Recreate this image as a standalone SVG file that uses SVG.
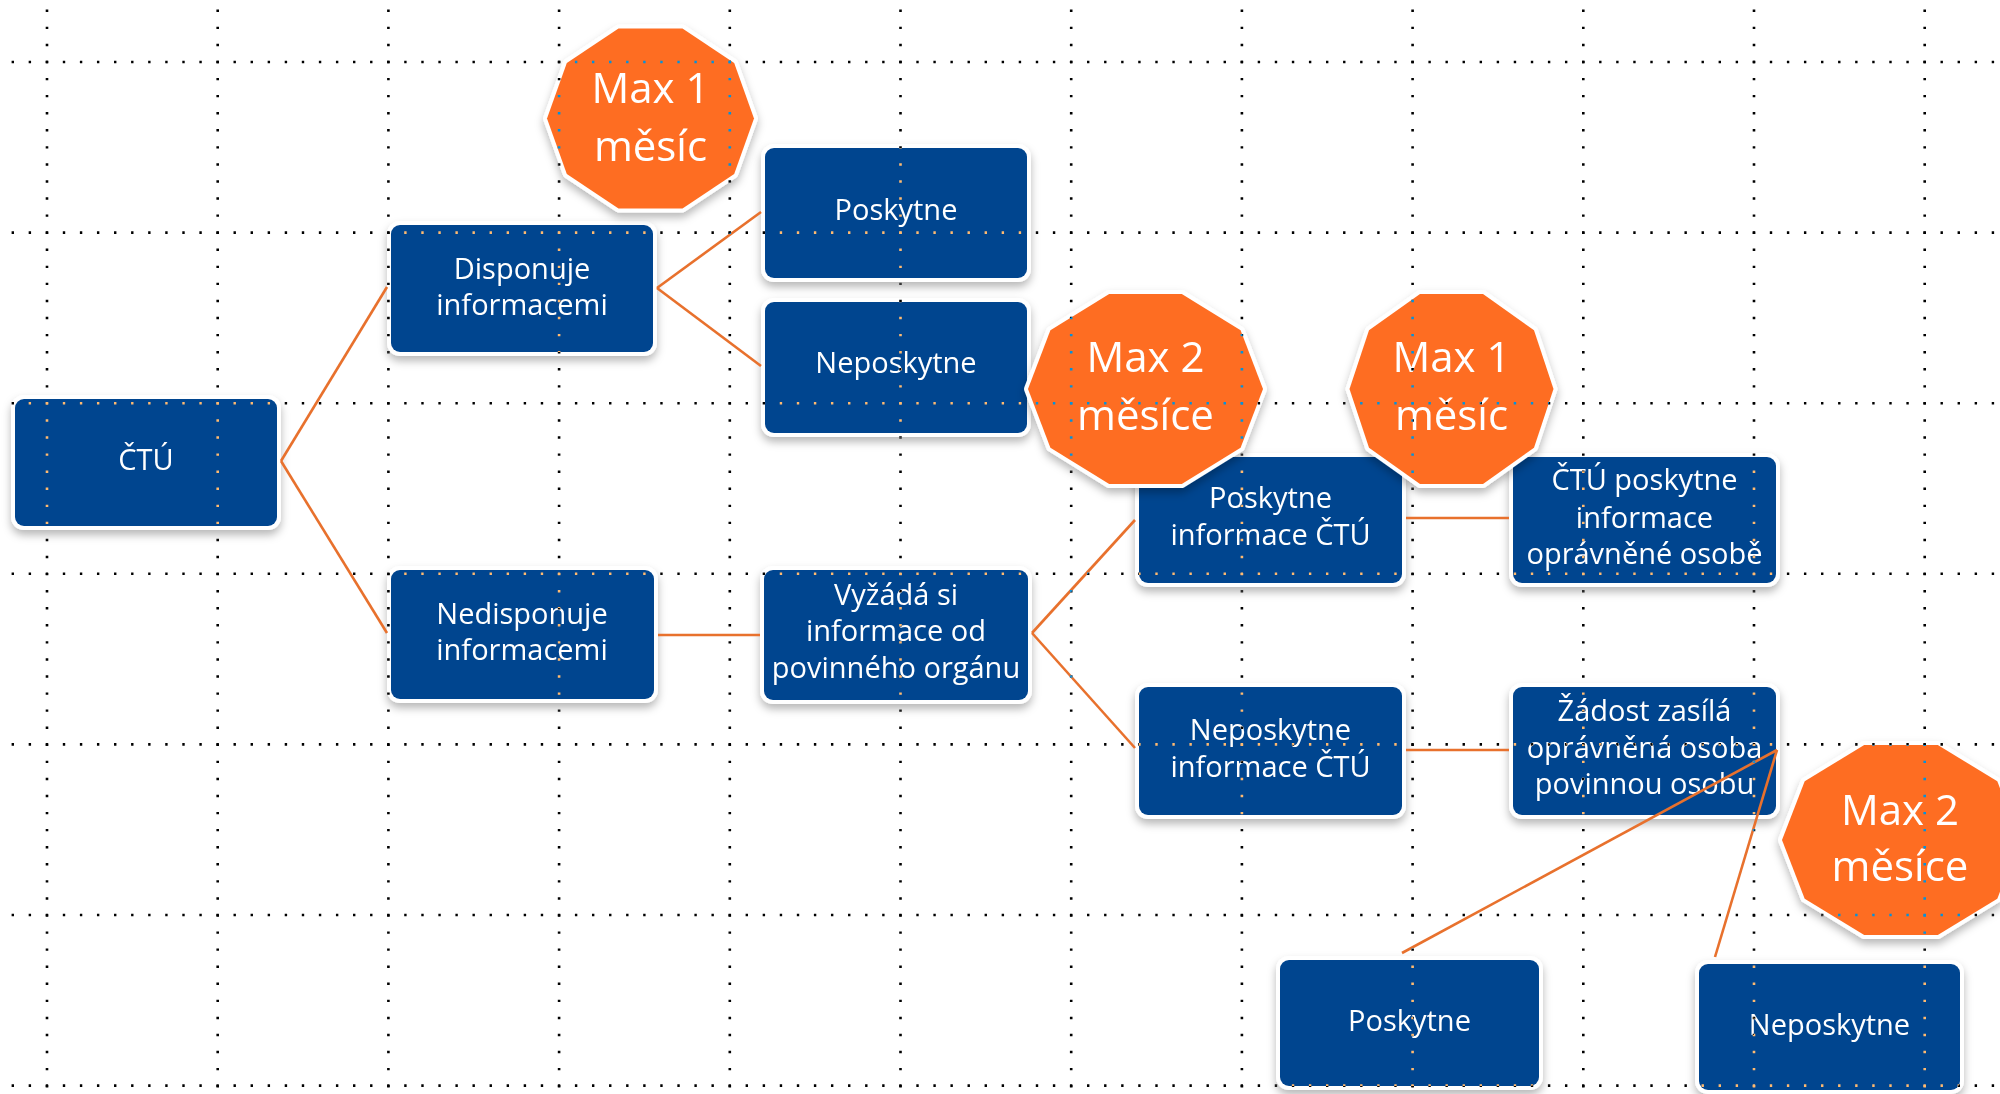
<svg xmlns="http://www.w3.org/2000/svg" width="2000" height="1094" viewBox="0 0 2000 1094">
  <defs>
    <filter id="sh" x="-20%" y="-20%" width="140%" height="150%">
      <feDropShadow dx="0" dy="5" stdDeviation="4" flood-color="#000" flood-opacity="0.28"/>
    </filter>
    <style>
      .box { fill: #03458F; stroke: #FFFFFF; stroke-width: 8; paint-order: stroke fill; filter: url(#sh); }
      .oct { fill: #FE6D22; stroke: #FFFFFF; stroke-width: 8; stroke-linejoin: round; paint-order: stroke fill; filter: url(#sh); }
      .t { font-family: "Open Sans", "Noto Sans", "DejaVu Sans", sans-serif; font-size: 29px; fill: #FFFFFF; text-anchor: middle; }
      .big { font-family: "Open Sans", "Noto Sans", "DejaVu Sans", sans-serif; font-size: 42px; fill: #FFFFFF; text-anchor: middle; }
      .con { stroke: #E8712D; stroke-width: 2.6; fill: none; }
      .gh { stroke: #FFFFFF; stroke-width: 2.6; stroke-dasharray: 2.4 14.67; fill: none; }
    </style>
  </defs>
  <rect x="0" y="0" width="2000" height="1094" fill="#FFFFFF"/>

  <g id="n-ctu">
    <rect class="box" x="15" y="399" width="262" height="127" rx="9"/>
    <text class="t" x="146" y="470">ČTÚ</text>
  </g>
  <g id="n-disponuje">
    <rect class="box" x="391" y="225" width="262" height="127" rx="9"/>
    <text class="t" x="522" y="278.5">Disponuje</text>
    <text class="t" x="522" y="314.5">informacemi</text>
  </g>
  <g id="n-nedisponuje">
    <rect class="box" x="391" y="570" width="263" height="129" rx="9"/>
    <text class="t" x="522" y="623.5">Nedisponuje</text>
    <text class="t" x="522" y="659.5">informacemi</text>
  </g>
  <g id="n-poskytne1">
    <rect class="box" x="765" y="148" width="262" height="130" rx="9"/>
    <text class="t" x="896" y="220">Poskytne</text>
  </g>
  <g id="n-neposkytne1">
    <rect class="box" x="765" y="302" width="262" height="131" rx="9"/>
    <text class="t" x="896" y="372.5">Neposkytne</text>
  </g>
  <g id="n-vyzada">
    <rect class="box" x="764" y="570" width="264" height="130" rx="9"/>
    <text class="t" x="896" y="604.5">Vyžádá si</text>
    <text class="t" x="896" y="641">informace od</text>
    <text class="t" x="896" y="678">povinného orgánu</text>
  </g>
  <g id="n-poskytne-info">
    <rect class="box" x="1139" y="457" width="263" height="126" rx="9"/>
    <text class="t" x="1270.5" y="508">Poskytne</text>
    <text class="t" x="1270.5" y="545">informace ČTÚ</text>
  </g>
  <g id="n-ctu-poskytne">
    <rect class="box" x="1513" y="457" width="263" height="126" rx="9"/>
    <text class="t" x="1644.5" y="490">ČTÚ poskytne</text>
    <text class="t" x="1644.5" y="527.5">informace</text>
    <text class="t" x="1644.5" y="564">oprávněné osobě</text>
  </g>
  <g id="n-neposkytne-info">
    <rect class="box" x="1139" y="687" width="263" height="128" rx="9"/>
    <text class="t" x="1270.5" y="740">Neposkytne</text>
    <text class="t" x="1270.5" y="777">informace ČTÚ</text>
  </g>
  <g id="n-zadost">
    <rect class="box" x="1513" y="687" width="263" height="128" rx="9"/>
    <text class="t" x="1644.5" y="721">Žádost zasílá</text>
    <text class="t" x="1644.5" y="757.5">oprávněná osoba</text>
    <text class="t" x="1644.5" y="794">povinnou osobu</text>
  </g>
  <g id="n-poskytne2">
    <rect class="box" x="1280" y="960" width="259" height="126" rx="9"/>
    <text class="t" x="1409.5" y="1031">Poskytne</text>
  </g>
  <g id="n-neposkytne2">
    <rect class="box" x="1699" y="964" width="261" height="126" rx="9"/>
    <text class="t" x="1829.5" y="1034.5">Neposkytne</text>
  </g>

  <g id="connectors">
    <line class="con" x1="281" y1="461" x2="387" y2="287"/>
    <line class="con" x1="281" y1="461" x2="387" y2="633"/>
    <line class="con" x1="657" y1="288" x2="761" y2="212"/>
    <line class="con" x1="657" y1="288" x2="761" y2="366"/>
    <line class="con" x1="658" y1="635" x2="760" y2="635"/>
    <line class="con" x1="1032" y1="633" x2="1135" y2="520"/>
    <line class="con" x1="1032" y1="633" x2="1135" y2="748"/>
    <line class="con" x1="1406" y1="518" x2="1509" y2="518"/>
    <line class="con" x1="1406" y1="750" x2="1509" y2="750"/>
    <line class="con" x1="1777" y1="750" x2="1402" y2="953"/>
    <line class="con" x1="1777" y1="750" x2="1715" y2="957"/>
  </g>

  <g id="d-max1-top">
    <polygon class="oct" points="754,118.5 734.2,62.9 682.5,28.5 618.5,28.5 566.8,62.9 547,118.5 566.8,174.1 618.5,208.5 682.5,208.5 734.2,174.1"/>
    <text class="big" x="650.5" y="103">Max 1</text>
    <text class="big" x="650.5" y="161">měsíc</text>
  </g>
  <g id="d-max2-mid">
    <polygon class="oct" points="1263,389 1240.6,330.3 1181.8,294 1109.2,294 1050.4,330.3 1028,389 1050.4,447.7 1109.2,484 1181.8,484 1240.6,447.7"/>
    <text class="big" x="1145.5" y="372">Max 2</text>
    <text class="big" x="1145.5" y="430">měsíce</text>
  </g>
  <g id="d-max1-right">
    <polygon class="oct" points="1553.5,389 1534,330.3 1483,294 1420,294 1369,330.3 1349.5,389 1369,447.7 1420,484 1483,484 1534,447.7"/>
    <text class="big" x="1451.5" y="372">Max 1</text>
    <text class="big" x="1451.5" y="430">měsíc</text>
  </g>
  <g id="d-max2-bottom">
    <polygon class="oct" points="2020,840 1997.3,781.3 1937.8,745 1864.2,745 1804.7,781.3 1782,840 1804.7,898.7 1864.2,935 1937.8,935 1997.3,898.7"/>
    <text class="big" x="1900" y="825">Max 2</text>
    <text class="big" x="1900" y="881">měsíce</text>
  </g>

  <g id="grid" style="mix-blend-mode: difference">
    <line class="gh" x1="11.6" y1="62" x2="2000" y2="62"/>
    <line class="gh" x1="11.6" y1="232.6" x2="2000" y2="232.6"/>
    <line class="gh" x1="11.6" y1="403.2" x2="2000" y2="403.2"/>
    <line class="gh" x1="11.6" y1="573.8" x2="2000" y2="573.8"/>
    <line class="gh" x1="11.6" y1="744.4" x2="2000" y2="744.4"/>
    <line class="gh" x1="11.6" y1="915" x2="2000" y2="915"/>
    <line class="gh" x1="11.6" y1="1085.6" x2="2000" y2="1085.6"/>
    <line class="gh" x1="47" y1="9.6" x2="47" y2="1094"/>
    <line class="gh" x1="217.7" y1="9.6" x2="217.7" y2="1094"/>
    <line class="gh" x1="388.4" y1="9.6" x2="388.4" y2="1094"/>
    <line class="gh" x1="559.1" y1="9.6" x2="559.1" y2="1094"/>
    <line class="gh" x1="729.8" y1="9.6" x2="729.8" y2="1094"/>
    <line class="gh" x1="900.5" y1="9.6" x2="900.5" y2="1094"/>
    <line class="gh" x1="1071.2" y1="9.6" x2="1071.2" y2="1094"/>
    <line class="gh" x1="1241.9" y1="9.6" x2="1241.9" y2="1094"/>
    <line class="gh" x1="1412.6" y1="9.6" x2="1412.6" y2="1094"/>
    <line class="gh" x1="1583.3" y1="9.6" x2="1583.3" y2="1094"/>
    <line class="gh" x1="1754" y1="9.6" x2="1754" y2="1094"/>
    <line class="gh" x1="1924.7" y1="9.6" x2="1924.7" y2="1094"/>
  </g>
</svg>
